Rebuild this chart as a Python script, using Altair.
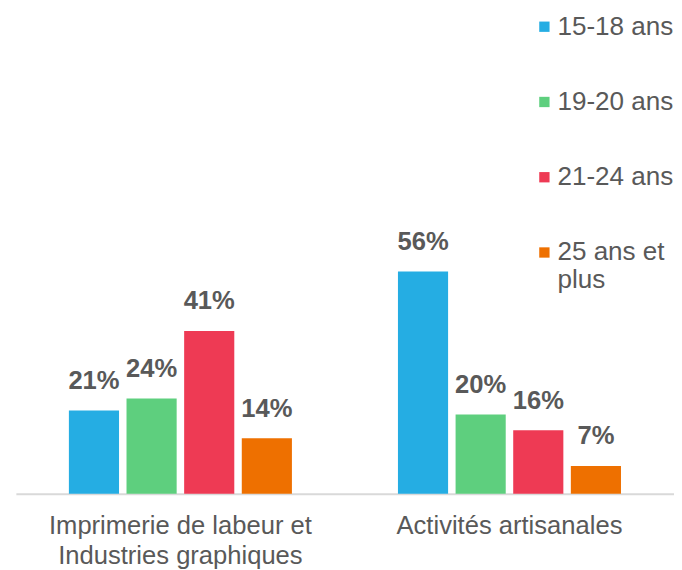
import altair as alt
import pandas as pd

categories = ["Imprimerie de labeur et Industries graphiques", "Activités artisanales"]
age_groups = ["15-18 ans", "19-20 ans", "21-24 ans", "25 ans et plus"]
values_imprimerie = [21, 24, 41, 14]
values_artisanales = [56, 20, 16, 7]
colors = ["#25ADE3", "#5ECF7E", "#EE3A54", "#EE7000"]

rows = []
for cat, vals in zip(categories, [values_imprimerie, values_artisanales]):
    for g, v in zip(age_groups, vals):
        rows.append({"cat": cat, "age": g, "val": v, "label": f"{v}%"})
df = pd.DataFrame(rows)

FONT = "Liberation Sans"
GREY = "#595959"

x = alt.X("cat:N", sort=categories, title=None,
          scale=alt.Scale(paddingInner=0, paddingOuter=0),
          axis=alt.Axis(labelAngle=0, labelFontSize=26, labelColor=GREY, labelFont=FONT,
                        domainColor="#D9D9D9", domainWidth=2, ticks=False, labelPadding=19,
                        labelLimit=400,
                        labelExpr="datum.label == 'Imprimerie de labeur et Industries graphiques' ? ['Imprimerie de labeur et', 'Industries graphiques'] : datum.label",
                        labelLineHeight=31))
xo = alt.XOffset("age:N", sort=age_groups,
                 scale=alt.Scale(paddingInner=0.13, paddingOuter=0.92))
y = alt.Y("val:Q", scale=alt.Scale(domain=[0, 119]), axis=None)

bars = alt.Chart(df).mark_bar().encode(
    x=x, xOffset=xo, y=y,
    color=alt.Color("age:N", sort=age_groups,
                    scale=alt.Scale(domain=age_groups, range=colors),
                    legend=alt.Legend(title=None, orient="none", legendX=524, legendY=-8,
                                      symbolType="square", symbolSize=110, symbolStrokeWidth=0,
                                      labelFontSize=26.5, labelColor=GREY, labelFont=FONT,
                                      rowPadding=49.5, padding=0, labelOffset=0, labelLimit=200,
                                      labelExpr="datum.label == '25 ans et plus' ? ['25 ans et', 'plus'] : datum.label")),
)

text = alt.Chart(df).mark_text(baseline="alphabetic", dy=-22, fontSize=26, fontWeight="bold",
                               color=GREY, font=FONT).encode(
    x=x, xOffset=xo, y=y, text="label:N"
)

chart = (bars + text).properties(
    width=669, height=480,
    padding={"left": 8, "top": 9, "right": 0, "bottom": 90},
    autosize=alt.AutoSizeParams(type="none"),
).configure_view(stroke=None)

chart.save("out.html", embed_options={"renderer": "svg", "actions": False})
